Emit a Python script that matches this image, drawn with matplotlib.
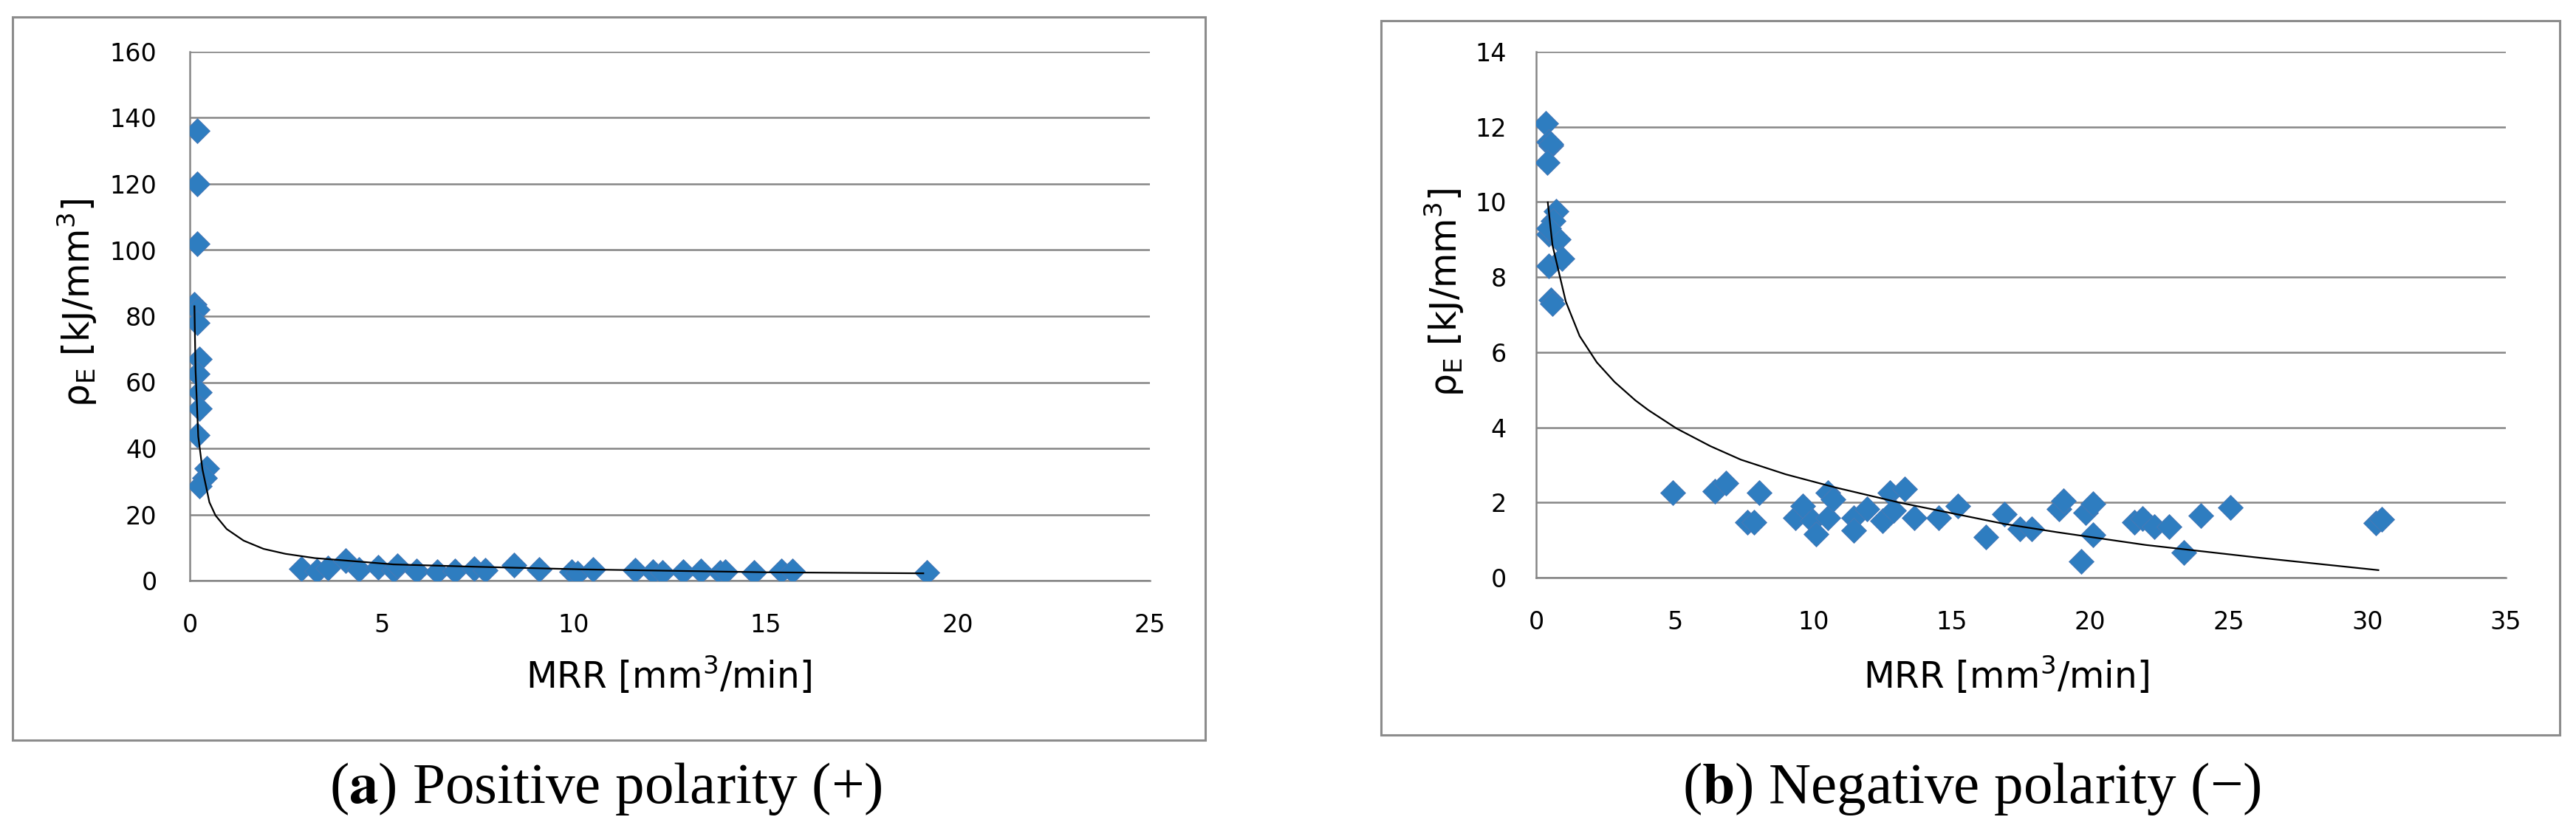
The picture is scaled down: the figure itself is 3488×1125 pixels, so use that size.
import matplotlib.pyplot as plt
from matplotlib.patches import Rectangle

# (a) Positive polarity: MRR [mm3/min] vs rho_E [kJ/mm3]
mrr_pos = [0.19, 0.19, 0.19, 0.12, 0.19, 0.19, 0.25, 0.19, 0.25, 0.25, 0.19, 0.44, 0.38, 0.25,
           2.9, 3.3, 3.6, 4.05, 4.4, 4.9, 5.3, 5.4, 5.9, 6.45, 6.9, 7.4, 7.7, 8.45, 9.1,
           9.95, 10.1, 10.5, 11.6, 12.05, 12.3, 12.85, 13.3, 13.8, 13.95, 14.7, 15.4, 15.7, 19.2]
rho_pos = [136, 120, 102, 83.5, 82, 78, 67, 62.5, 57, 52, 44, 34, 31, 28.5,
           3.5, 3.0, 3.8, 6.0, 3.4, 4.0, 3.2, 4.5, 3.0, 2.6, 2.9, 3.6, 3.2, 4.6, 3.4,
           2.6, 2.2, 3.4, 3.2, 2.6, 2.4, 2.7, 3.0, 2.4, 2.6, 2.5, 2.9, 3.0, 2.5]
# linea de tendencia
trend_pos_x = [0.12, 0.15, 0.22, 0.33, 0.44, 0.51, 0.67, 0.96, 1.40, 1.92, 2.49, 3.26,
               4.03, 5.3, 7.4, 10.2, 15.1, 19.1]
trend_pos_y = [83, 63.5, 43.6, 33.6, 27.6, 23.7, 19.7, 15.6, 12.1, 9.6, 8.1, 6.8,
               6.1, 4.9, 4.2, 3.4, 2.5, 2.2]

# (b) Negative polarity
mrr_neg = [0.35, 0.44, 0.52, 0.52, 0.41, 0.72, 0.61, 0.45, 0.79, 0.45, 0.93, 0.52, 0.59, 0.45,
           4.94, 6.44, 6.84, 8.04, 7.63, 7.86, 9.36, 9.63, 9.97, 10.1, 10.52, 10.52, 10.72,
           11.46, 11.46, 11.94, 12.49, 12.76, 12.9, 13.3, 13.64, 14.53, 15.21, 16.23, 16.9,
           17.45, 17.88, 18.87, 19.03, 19.66, 19.82, 20.09, 20.09, 21.59, 21.89, 22.32, 22.84,
           23.38, 23.99, 25.06, 30.31, 30.53]
rho_neg = [12.1, 11.6, 11.5, 11.55, 11.05, 9.75, 9.5, 9.15, 9.0, 8.3, 8.5, 7.4, 7.3, 9.3,
           2.26, 2.31, 2.52, 2.26, 1.47, 1.47, 1.6, 1.91, 1.51, 1.16, 1.6, 2.26, 2.08,
           1.6, 1.26, 1.83, 1.51, 2.26, 1.78, 2.35, 1.6, 1.6, 1.91, 1.08, 1.69,
           1.3, 1.3, 1.83, 2.04, 0.43, 1.74, 1.97, 1.15, 1.48, 1.58, 1.35, 1.35,
           0.67, 1.65, 1.87, 1.45, 1.55]
trend_neg_x = [0.42, 0.59, 1.07, 1.57, 2.19, 2.83, 3.58, 4.05, 5.07, 6.29, 7.39, 9.01,
               10.8, 13.1, 14.9, 16.9, 18.8, 22.0, 26.1, 30.4]
trend_neg_y = [9.99, 8.85, 7.35, 6.43, 5.73, 5.21, 4.72, 4.46, 3.97, 3.50, 3.14, 2.75,
               2.40, 2.0, 1.73, 1.43, 1.21, 0.87, 0.53, 0.20]

W, H = 3488, 1125
azul = '#2E7DC0'
gris = '#868686'

fig = plt.figure(figsize=(W / 100, H / 100), dpi=100)

def px(x0, y0, x1, y1):
    # caja en pixeles (origen arriba) -> fraccion de figura
    return [x0 / W, 1 - y1 / H, (x1 - x0) / W, (y1 - y0) / H]

# marcos exteriores
for x0, y0, x1, y1 in [(17, 23, 1632, 1002), (1870, 28, 3466, 995)]:
    l, b, w, h = px(x0, y0, x1, y1)
    fig.patches.append(Rectangle((l, b), w, h, transform=fig.transFigure,
                                 fill=False, edgecolor='#8C8C8C', linewidth=2.2))

paneles = [
    (px(257, 70, 1557, 786), mrr_pos, rho_pos, trend_pos_x, trend_pos_y,
     25, 5, 160, 20, 32),
    (px(2080, 70, 3393, 782), mrr_neg, rho_neg, trend_neg_x, trend_neg_y,
     35, 5, 14, 2, 29),
]

for rect, xs, ys, tx, ty, xmax, xstep, ymax, ystep, ypad in paneles:
    ax = fig.add_axes(rect)
    ax.plot(xs, ys, linestyle='none', marker='D', markersize=17,
            color=azul, markeredgecolor='#4C78B4', markeredgewidth=0.6, zorder=3)
    ax.plot(tx, ty, color='black', linewidth=1.6, zorder=4)
    ax.set_xlim(0, xmax)
    ax.set_ylim(0, ymax)
    ax.set_xticks(range(0, xmax + 1, xstep))
    ax.set_yticks(range(0, ymax + 1, ystep))
    ax.grid(axis='y', color=gris, linewidth=1.8)
    ax.set_axisbelow(True)
    for s in ['top', 'right']:
        ax.spines[s].set_visible(False)
    for s in ['left', 'bottom']:
        ax.spines[s].set_color(gris)
        ax.spines[s].set_linewidth(1.8)
    ax.tick_params(axis='both', length=0, labelsize=24)
    ax.tick_params(axis='y', pad=ypad)
    ax.tick_params(axis='x', pad=32)
    ax.patch.set_alpha(0)

# etiquetas de ejes
for xc in [905, 2716]:
    fig.text(xc / W, 1 - 932 / H, 'MRR [mm$^3$/min]', fontsize=35,
             ha='center', va='baseline')
for xc, yc in [(105, 410), (1956, 396)]:
    fig.text(xc / W, 1 - yc / H, 'ρ$_\\mathrm{E}$ [kJ/mm$^3$]', fontsize=35,
             rotation=90, ha='center', va='center')

# titulos inferiores
fig.text(820 / W, 1 - 1087 / H, '($\\mathbf{a}$) Positive polarity (+)',
         family='Liberation Serif', math_fontfamily='stix', fontsize=57,
         ha='center', va='baseline')
fig.text(2670 / W, 1 - 1087 / H, '($\\mathbf{b}$) Negative polarity (\u2212)',
         family='Liberation Serif', math_fontfamily='stix', fontsize=57,
         ha='center', va='baseline')

plt.savefig('out.png', dpi=100)
